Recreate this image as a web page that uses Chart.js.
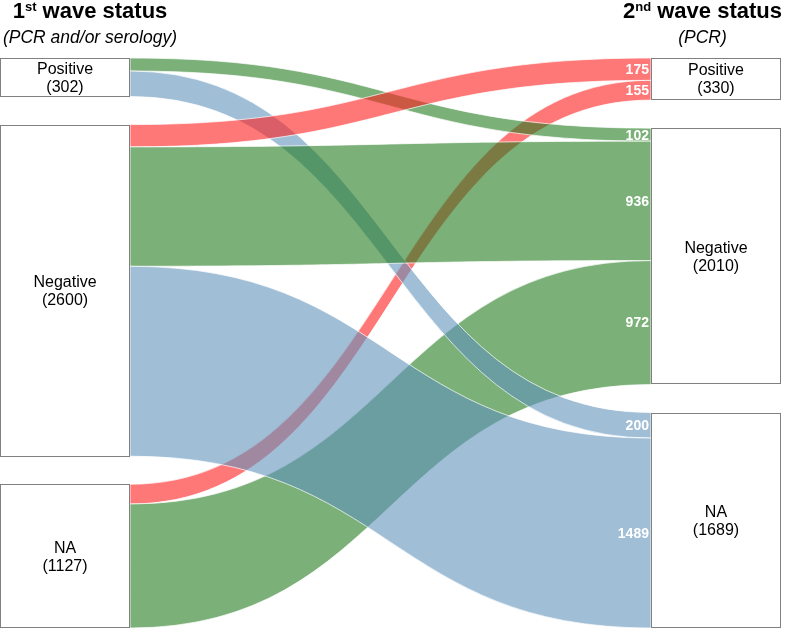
<!DOCTYPE html>
<html>
<head>
<meta charset="utf-8">
<script src="https://cdn.jsdelivr.net/npm/chart.js@4.4.1/dist/chart.umd.min.js"></script>
<style>
  html, body { margin: 0; padding: 0; background: #fff; }
  #wrap { position: relative; width: 785px; height: 630px; overflow: hidden; }
  #wrap canvas { position: absolute; left: 0; top: 0; }
  .head {
    position: absolute;
    top: -2px;
    text-align: center;
    white-space: nowrap;
    font-family: "Liberation Sans", Arial, sans-serif;
    color: #000;
    z-index: 2;
  }
  .head .t { font-weight: bold; font-size: 22px; line-height: 26px; }
  .head .t sup { font-size: 13px; line-height: 0; vertical-align: 7px; }
  .head .s { font-style: italic; font-size: 17.5px; line-height: 20px; margin-top: 3px; }
  #headLeft { left: 0; width: 180px; }
  #headRight { left: 620px; width: 165px; }
</style>
</head>
<body>
<div id="wrap">
  <div class="head" id="headLeft">
    <div class="t">1<sup>st</sup> wave status</div>
    <div class="s">(PCR and/or serology)</div>
  </div>
  <div class="head" id="headRight">
    <div class="t">2<sup>nd</sup> wave status</div>
    <div class="s">(PCR)</div>
  </div>
  <canvas id="sankey-chart" width="785" height="630"></canvas>
</div>
<script>
  // node names, same order on both sides
  const sourceLabels = ["Positive", "Negative", "NA"];
  const targetLabels = ["Positive", "Negative", "NA"];

  // flows, listed in the order they are painted (later ones sit on top)
  const flowFrom = [2, 2, 0, 0, 1, 1, 1];
  const flowTo = [0, 1, 1, 2, 0, 1, 2];
  const flowValues = [155, 972, 102, 200, 175, 936, 1489];

  // colour follows the 2nd wave status
  const targetColors = [
    "rgba(255, 30, 30, 0.6)",
    "rgba(35, 123, 32, 0.6)",
    "rgba(97, 147, 187, 0.6)",
  ];

  const nodeGap = 220;     // empty space between nodes, in counts
  const nodeWidth = 0.1665; // fraction of the x range

  function totalsBy(keys, size) {
    const out = new Array(size).fill(0);
    flowValues.forEach(function (v, i) {
      out[keys[i]] += v;
    });
    return out;
  }

  function startsFor(totals) {
    const starts = [];
    let acc = 0;
    totals.forEach(function (t) {
      starts.push(acc);
      acc += t + nodeGap;
    });
    return starts;
  }

  const leftTotals = totalsBy(flowFrom, sourceLabels.length);
  const rightTotals = totalsBy(flowTo, targetLabels.length);
  const leftStarts = startsFor(leftTotals);
  const rightStarts = startsFor(rightTotals);
  const yMax = leftTotals.reduce(function (a, b) { return a + b; }, 0) + nodeGap * (sourceLabels.length - 1);

  // where each flow sits inside its source and target node
  function flowOffsets() {
    const order = flowValues.map(function (_, i) { return i; });
    const leftOff = [];
    const rightOff = [];
    sourceLabels.forEach(function (_, s) {
      let acc = leftStarts[s];
      order.filter(function (i) { return flowFrom[i] === s; })
        .sort(function (a, b) { return flowTo[a] - flowTo[b]; })
        .forEach(function (i) { leftOff[i] = acc; acc += flowValues[i]; });
    });
    targetLabels.forEach(function (_, t) {
      let acc = rightStarts[t];
      order.filter(function (i) { return flowTo[i] === t; })
        .sort(function (a, b) { return flowFrom[a] - flowFrom[b]; })
        .forEach(function (i) { rightOff[i] = acc; acc += flowValues[i]; });
    });
    return { leftOff, rightOff };
  }

  const sankeyPainter = {
    id: "sankeyPainter",
    beforeDatasetsDraw(chart) {
      const ctx = chart.ctx;
      const xs = chart.scales.x;
      const ys = chart.scales.y;
      const xL = xs.getPixelForValue(nodeWidth);
      const xR = xs.getPixelForValue(1 - nodeWidth);
      const x0 = xs.getPixelForValue(0);
      const x1 = xs.getPixelForValue(1);
      const xm = (xL + xR) / 2;
      const offs = flowOffsets();

      ctx.save();
      flowValues.forEach(function (v, i) {
        const a0 = ys.getPixelForValue(offs.leftOff[i]);
        const a1 = ys.getPixelForValue(offs.leftOff[i] + v);
        const b0 = ys.getPixelForValue(offs.rightOff[i]);
        const b1 = ys.getPixelForValue(offs.rightOff[i] + v);
        ctx.beginPath();
        ctx.moveTo(xL, a0);
        ctx.bezierCurveTo(xm, a0, xm, b0, xR, b0);
        ctx.lineTo(xR, b1);
        ctx.bezierCurveTo(xm, b1, xm, a1, xL, a1);
        ctx.closePath();
        ctx.fillStyle = targetColors[flowTo[i]];
        ctx.fill();
        ctx.lineWidth = 1;
        ctx.strokeStyle = "rgba(255, 255, 255, 0.7)";
        ctx.stroke();
      });

      // value labels at the right end of every flow
      ctx.font = "bold 14px 'Liberation Sans', Arial, sans-serif";
      ctx.fillStyle = "#ffffff";
      ctx.textAlign = "right";
      ctx.textBaseline = "middle";
      flowValues.forEach(function (v, i) {
        const mid = ys.getPixelForValue(offs.rightOff[i] + v / 2);
        ctx.fillText(String(v), xR - 2, mid + 1);
      });

      // node boxes
      function drawNode(left, right, start, total, label) {
        const top = ys.getPixelForValue(start);
        const bottom = ys.getPixelForValue(start + total);
        ctx.fillStyle = "#ffffff";
        ctx.fillRect(left, top, right - left, bottom - top);
        ctx.strokeStyle = "#808080";
        ctx.lineWidth = 1;
        ctx.strokeRect(Math.round(left) + 0.5, Math.round(top) + 0.5,
          Math.round(right - left) - 1, Math.round(bottom - top) - 1);
        ctx.fillStyle = "#000000";
        ctx.font = "16px 'Liberation Sans', Arial, sans-serif";
        ctx.textAlign = "center";
        ctx.textBaseline = "middle";
        const cx = (left + right) / 2;
        const cy = (top + bottom) / 2;
        ctx.fillText(label, cx, cy - 8);
        ctx.fillText("(" + total + ")", cx, cy + 10);
      }
      sourceLabels.forEach(function (name, s) {
        drawNode(x0, xL, leftStarts[s], leftTotals[s], name);
      });
      targetLabels.forEach(function (name, t) {
        drawNode(xR, x1, rightStarts[t], rightTotals[t], name);
      });
      ctx.restore();
    },
  };

  new Chart(document.getElementById("sankey-chart"), {
    type: "scatter",
    data: { datasets: [{ data: [] }] },
    options: {
      responsive: false,
      animation: false,
      events: [],
      layout: { padding: { top: 58, bottom: 2, left: 0, right: 4 } },
      plugins: {
        legend: { display: false },
        tooltip: { enabled: false },
      },
      scales: {
        x: { type: "linear", min: 0, max: 1, display: false },
        y: { type: "linear", min: 0, max: yMax, reverse: true, display: false },
      },
    },
    plugins: [sankeyPainter],
  });
</script>
</body>
</html>
